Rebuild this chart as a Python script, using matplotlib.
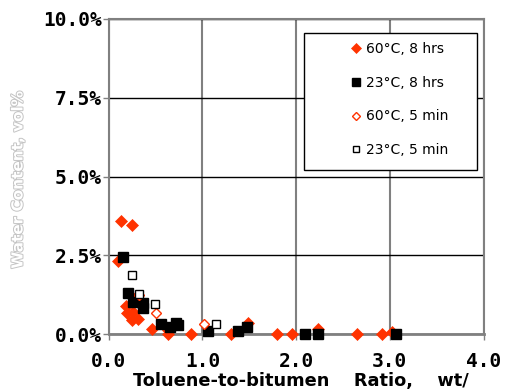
import matplotlib
matplotlib.use("Agg")
import matplotlib.pyplot as plt
import matplotlib.patheffects as pe
from matplotlib.patches import Rectangle
from matplotlib.ticker import FuncFormatter

# data (x = toluene/bitumen ratio, y = water content in %)
hot_8h_x = [0.13, 0.25, 0.10, 0.18, 0.19, 0.26, 0.25, 0.31, 0.28, 0.46, 0.63, 0.63,
            0.88, 1.31, 1.49, 1.80, 1.96, 2.23, 2.65, 2.92, 3.02]
hot_8h_y = [3.59, 3.46, 2.32, 0.89, 0.66, 0.71, 0.44, 0.48, 1.15, 0.16, 0.13, 0.00,
            0.00, 0.00, 0.34, 0.00, 0.00, 0.15, 0.00, 0.00, 0.07]

room_8h_x = [0.15, 0.21, 0.26, 0.37, 0.37, 0.56, 0.65, 0.72, 0.74, 1.06, 1.38, 1.48,
             2.10, 2.23, 3.07]
room_8h_y = [2.45, 1.31, 1.01, 0.97, 0.82, 0.31, 0.23, 0.34, 0.29, 0.10, 0.10, 0.23,
             0.00, 0.00, 0.00]

hot_5m_x = [0.32, 0.51, 1.02]
hot_5m_y = [1.23, 0.68, 0.31]

room_5m_x = [0.25, 0.32, 0.49, 1.15]
room_5m_y = [1.88, 1.26, 0.94, 0.31]

x_ticks = [0.0, 1.0, 2.0, 3.0, 4.0]
y_ticks = [0.0, 2.5, 5.0, 7.5, 10.0]
series_labels = ["60\u00b0C, 8 hrs", "23\u00b0C, 8 hrs", "60\u00b0C, 5 min", "23\u00b0C, 5 min"]

W, H = 507, 392
red = "#ff3300"
gray = "#808080"

fig = plt.figure(figsize=(W / 100, H / 100), dpi=100)
ax = fig.add_axes([108.7 / W, 1 - 334 / H, (483.5 - 108.7) / W, (334 - 19) / H])

# markers, drawn in the same order as the original
ax.plot(hot_8h_x, hot_8h_y, "D", ms=6.0, color=red, mec=red, mew=0.5,
        ls="none", clip_on=False, label=series_labels[0], zorder=3)
ax.plot(room_8h_x, room_8h_y, "s", ms=7.5, color="black", mec="black",
        ls="none", clip_on=False, label=series_labels[1], zorder=4)
ax.plot(hot_5m_x, hot_5m_y, "D", ms=5.5, mfc="white", mec=red, mew=1,
        ls="none", clip_on=False, label=series_labels[2], zorder=5)
ax.plot(room_5m_x, room_5m_y, "s", ms=5.5, mfc="white", mec="black", mew=1,
        ls="none", clip_on=False, label=series_labels[3], zorder=5)

ax.set_xlim(0, 4)
ax.set_ylim(0, 10)
ax.set_xticks(x_ticks)
ax.set_yticks(y_ticks)
ax.xaxis.set_major_formatter(FuncFormatter(lambda v, p: f"{v:.1f}"))
ax.yaxis.set_major_formatter(FuncFormatter(lambda v, p: f"{v:.1f}%"))

# grid: black horizontals, gray verticals
ax.set_axisbelow(True)
ax.yaxis.grid(True, color="black", lw=1)
ax.xaxis.grid(True, color=gray, lw=1.5)

for s in ax.spines.values():
    s.set_color(gray)
    s.set_linewidth(1.5)
ax.spines["bottom"].set_linewidth(2)

ax.tick_params(direction="out", length=4, width=1, color=gray)
ax.tick_params(axis="y", pad=1)
ax.tick_params(axis="x", pad=9)
for lab in ax.get_xticklabels() + ax.get_yticklabels():
    lab.set_fontfamily("DejaVu Sans Mono")
    lab.set_fontweight("bold")
    lab.set_fontsize(14)

# outlined light-gray y label
fig.text(18 / W, 1 - 180 / H, "Water Content, vol%", rotation=90, ha="center",
         va="center", fontsize=11, fontweight="bold", color="white",
         path_effects=[pe.withStroke(linewidth=1.4, foreground="#c4c4c4")])

# x label sits just below the tick labels and runs to the right edge
fig.text(133 / W, 1 - 386 / H, "Toluene-to-bitumen    Ratio,    wt/", ha="left",
         va="baseline", fontsize=12.8, fontweight="bold", color="black")

# legend: white box with the entries set to the right inside it
box = Rectangle((304 / W, 1 - 170 / H), (477 - 304) / W, (170 - 33) / H,
                transform=fig.transFigure, facecolor="white", edgecolor="black",
                lw=1, zorder=6, clip_on=False)
ax.add_patch(box)
leg = ax.legend(loc="upper left", bbox_to_anchor=(349 / W, 1 - 42 / H),
                bbox_transform=fig.transFigure, frameon=False, fontsize=10,
                handlelength=1.0, handletextpad=0.2, labelspacing=1.42,
                borderpad=0, borderaxespad=0, markerscale=0.8)
leg.set_zorder(7)

fig.savefig("out.png", dpi=100)
